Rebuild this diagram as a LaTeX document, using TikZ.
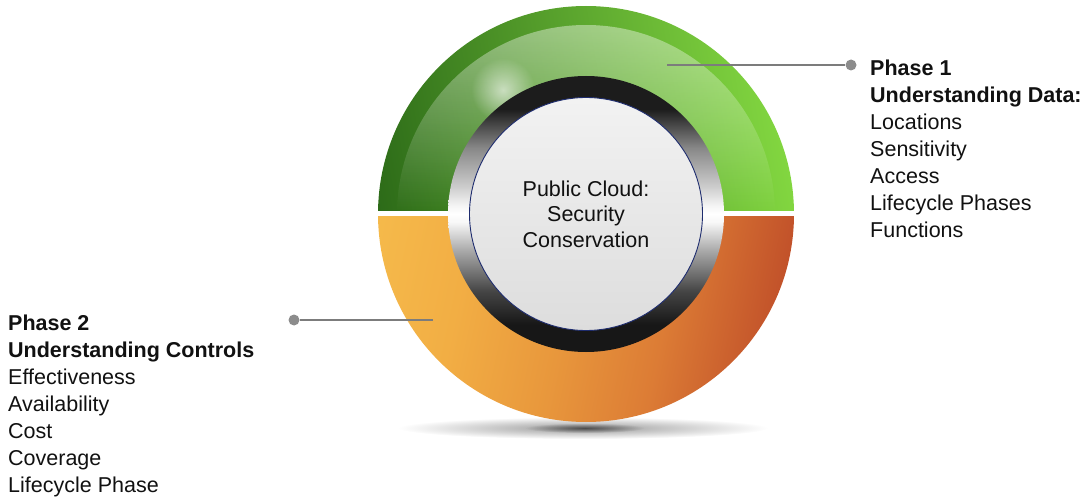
\documentclass[tikz,border=0pt]{standalone}
\usepackage{fontspec}
\setmainfont{Liberation Sans}
\usetikzlibrary{fadings}

\definecolor{grnD}{HTML}{2C6A18}
\definecolor{grnM}{HTML}{519F2E}
\definecolor{grnL}{HTML}{82D640}
\definecolor{coreT}{HTML}{F2F2F2}
\definecolor{coreB}{HTML}{DDDDDD}
\definecolor{navy}{HTML}{1E2C6E}
\definecolor{linegray}{HTML}{7C7C7C}
\definecolor{dotgray}{HTML}{8C8C8C}
\definecolor{txt}{HTML}{111111}

% metallic band: black at top and bottom, bright along the horizontal axis
\pgfdeclareverticalshading{metalring}{100bp}{%
  rgb(0bp)=(0.09,0.09,0.09);
  rgb(30bp)=(0.09,0.09,0.09);
  rgb(36bp)=(0.27,0.27,0.27);
  rgb(43.5bp)=(0.67,0.67,0.67);
  rgb(48.5bp)=(0.97,0.97,0.97);
  rgb(50bp)=(1,1,1);
  rgb(51.5bp)=(0.96,0.96,0.96);
  rgb(55bp)=(0.80,0.80,0.80);
  rgb(62bp)=(0.53,0.53,0.53);
  rgb(69bp)=(0.11,0.11,0.11);
  rgb(100bp)=(0.11,0.11,0.11)}

% warm band: golden on the left, burnt orange on the right
\pgfdeclarehorizontalshading{warmband}{100bp}{%
  rgb(0bp)=(0.961,0.729,0.294);
  rgb(25bp)=(0.961,0.729,0.294);
  rgb(37bp)=(0.949,0.682,0.267);
  rgb(50bp)=(0.910,0.592,0.235);
  rgb(62bp)=(0.863,0.486,0.208);
  rgb(75bp)=(0.761,0.322,0.165);
  rgb(100bp)=(0.761,0.322,0.165)}

\tikzfading[name=hlfade, top color=transparent!25, bottom color=transparent!100]
\tikzfading[name=glare, inner color=transparent!10, outer color=transparent!100]
\tikzfading[name=softglare, inner color=transparent!40, outer color=transparent!100]

\tikzset{
  conn/.style={draw=linegray, line width=1.2pt},
  dotst/.style={circle, fill=dotgray, inner sep=0pt, minimum size=11pt},
  sidetext/.style={align=left, inner sep=0pt, anchor=north west, text=txt,
    font=\fontsize{21.5}{27}\selectfont},
}

\begin{document}
\begin{tikzpicture}[x=1pt, y=-1pt]
\useasboundingbox (0,0) rectangle (1092,497);
\coordinate (C) at (586,214);

% soft shadow under the disc
\shade[inner color=black!40, outer color=white] (583,428) ellipse [x radius=185, y radius=11];
\fill[black, fill opacity=0.55, path fading=glare] (585,428) ellipse [x radius=60, y radius=5];

% upper half: green
\begin{scope}
  \clip (360,-5) rectangle (810,211);
  \shade[top color=grnD, middle color=grnM, bottom color=grnL, shading angle=100] (C) circle (208);
\end{scope}
% glossy inner highlight of the green half
\begin{scope}
  \clip (C) circle (189);
  \fill[white, fill opacity=0.55, path fading=hlfade] (395,25) rectangle (780,211);
\end{scope}
\fill[white, path fading=softglare] (503,90) circle (32);

% lower half: orange
\begin{scope}
  \clip (360,217) rectangle (810,440);
  \shade[shading=warmband, shading angle=-12] (C) circle (208);
\end{scope}

% metallic ring
\shade[shading=metalring] (C) circle (138);

% centre disc
\node[circle, minimum size=233pt, inner sep=0pt, draw=navy, line width=0.9pt,
      top color=coreT, bottom color=coreB, align=center, text=txt,
      font=\fontsize{21.5}{25.6}\selectfont] (core) at (C)
  {Public Cloud:\\Security\\Conservation};

% leader lines
\coordinate (a1) at (667,65);
\node[dotst] (d1) at (851,65) {};
\draw[conn] (a1) -- (d1);
\coordinate (a2) at (433,320);
\node[dotst] (d2) at (294,320) {};
\draw[conn] (a2) -- (d2);

% phase descriptions
\node[sidetext] (t1) at (870,59.3)
  {\textbf{Phase 1}\\\textbf{Understanding Data:}\\Locations\\Sensitivity\\Access\\Lifecycle Phases\\Functions};
\node[sidetext] (t2) at (8,314.5)
  {\textbf{Phase 2}\\\textbf{Understanding Controls}\\Effectiveness\\Availability\\Cost\\Coverage\\Lifecycle Phase};
\end{tikzpicture}
\end{document}
